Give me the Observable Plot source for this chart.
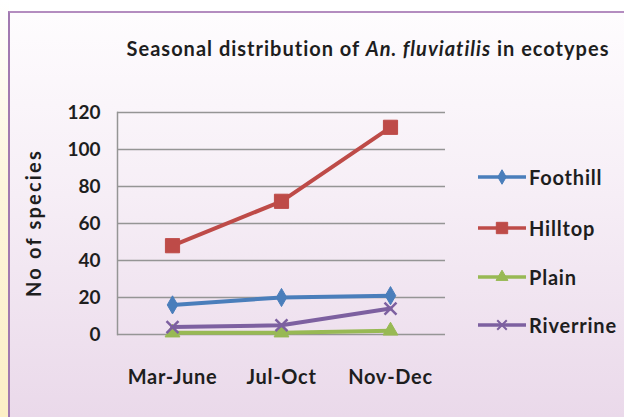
<!DOCTYPE html>
<html><head><meta charset="utf-8">
<script src="https://cdn.jsdelivr.net/npm/d3@7"></script>
<script src="https://cdn.jsdelivr.net/npm/@observablehq/plot@0.6"></script>
<style>
html,body{margin:0;padding:0;background:#fff;}
#frame{position:relative;width:624px;height:417px;overflow:hidden;background:#fff;font-family:Lato,"Open Sans",sans-serif;font-weight:bold;color:#1e1e1e;}
#strip{position:absolute;left:0;top:0;width:9px;height:417px;background:linear-gradient(to bottom,#ffffff 0%,#fdf5dc 45%,#fcefc6 100%);}
#panel{position:absolute;left:8px;top:11px;right:0;bottom:0;border-left:2px solid #a27ab0;border-top:2px solid #b48cc0;background:linear-gradient(to bottom,#fefcfe 0%,#f6eef6 45%,#ead9ea 100%);}
#title{position:absolute;left:368px;top:36px;transform:translateX(-50%);white-space:nowrap;font-size:20px;letter-spacing:1px;}
#ylabel{position:absolute;left:33px;top:223px;transform:translate(-50%,-50%) rotate(-90deg);white-space:nowrap;font-size:20px;letter-spacing:2.2px;}
#chart{position:absolute;left:0;top:0;}
#legend{position:absolute;left:478px;top:0;}
.item{position:absolute;left:0;display:flex;align-items:center;white-space:nowrap;font-size:20px;letter-spacing:0.8px;transform:translateY(-50%);}
.item svg{display:block;}
</style></head>
<body>
<div id="frame">
  <div id="strip"></div>
  <div id="panel"></div>
  <div id="title">Seasonal distribution of <i>An. fluviatilis</i> in ecotypes</div>
  <div id="ylabel">No of species</div>
  <div id="chart"></div>
  <div id="legend"></div>
</div>
<script>
const seasons = ["Mar-June", "Jul-Oct", "Nov-Dec"];
const seriesNames = ["Foothill", "Hilltop", "Plain", "Riverrine"];
const foothill = [16, 20, 21];
const hilltop = [48, 72, 112];
const plain = [1, 1, 2];
const riverrine = [4, 5, 14];
const yTicks = [0, 20, 40, 60, 80, 100, 120];
const colors = ["#4a7ebb", "#be4b48", "#98b954", "#7d60a0"];
const symbols = ["diamond", "square", "triangle", "times"];
const markerR = [5.5, 8, 5.5, 5.5];
const legendY = [177, 228, 277, 325];

const values = [foothill, hilltop, plain, riverrine];
const data = seriesNames.flatMap((s, i) => seasons.map((m, j) => ({series: s, season: m, value: values[i][j]})));

const seriesMarks = seriesNames.flatMap((s, i) => {
  const d = data.filter(r => r.series === s);
  const stroked = symbols[i] === "times";
  return [
    Plot.line(d, {x: "season", y: "value", stroke: colors[i], strokeWidth: 4}),
    Plot.dot(d, {x: "season", y: "value", symbol: symbols[i], r: markerR[i],
      fill: stroked ? "none" : colors[i], stroke: colors[i], strokeWidth: stroked ? 2.5 : 1})
  ];
});

const chart = Plot.plot({
  width: 624,
  height: 417,
  marginLeft: 117,
  marginRight: 179,
  marginTop: 112,
  marginBottom: 83,
  style: {background: "transparent", fontFamily: "Lato, 'Open Sans', sans-serif", fontSize: "19px", fontWeight: "bold", color: "#1e1e1e"},
  x: {type: "point", domain: seasons, padding: 0.5, label: null, tickSize: 0, tickPadding: 35},
  y: {domain: [0, 120], ticks: yTicks, label: null, tickSize: 0, tickPadding: 17},
  marks: [
    Plot.ruleY(yTicks, {stroke: "#959595", strokeWidth: 1.5}),
    Plot.frame({anchor: "left", stroke: "#959595", strokeWidth: 1.5}),
    ...seriesMarks
  ]
});
chart.querySelectorAll("[aria-label='x-axis tick label'] text").forEach(t => {
  t.style.fontSize = "20px";
  t.style.letterSpacing = "0.7px";
});
document.getElementById("chart").appendChild(chart);

const legend = document.getElementById("legend");
seriesNames.forEach((s, i) => {
  const item = document.createElement("div");
  item.className = "item";
  item.style.top = legendY[i] + "px";
  const svg = d3.create("svg").attr("width", 51).attr("height", 20);
  svg.append("line").attr("x1", 0).attr("x2", 48).attr("y1", 10).attr("y2", 10)
    .attr("stroke", colors[i]).attr("stroke-width", 3.5);
  const symMap = {diamond: d3.symbolDiamond, square: d3.symbolSquare, triangle: d3.symbolTriangle, times: d3.symbolTimes};
  const r = markerR[i] * 0.8;
  const path = d3.symbol(symMap[symbols[i]], Math.PI * r * r)();
  const stroked = symbols[i] === "times";
  svg.append("path").attr("d", path).attr("transform", "translate(24,10)")
    .attr("fill", stroked ? "none" : colors[i]).attr("stroke", colors[i]).attr("stroke-width", stroked ? 2 : 1);
  item.appendChild(svg.node());
  const label = document.createElement("span");
  label.textContent = s;
  item.appendChild(label);
  legend.appendChild(item);
});
</script>
</body></html>
